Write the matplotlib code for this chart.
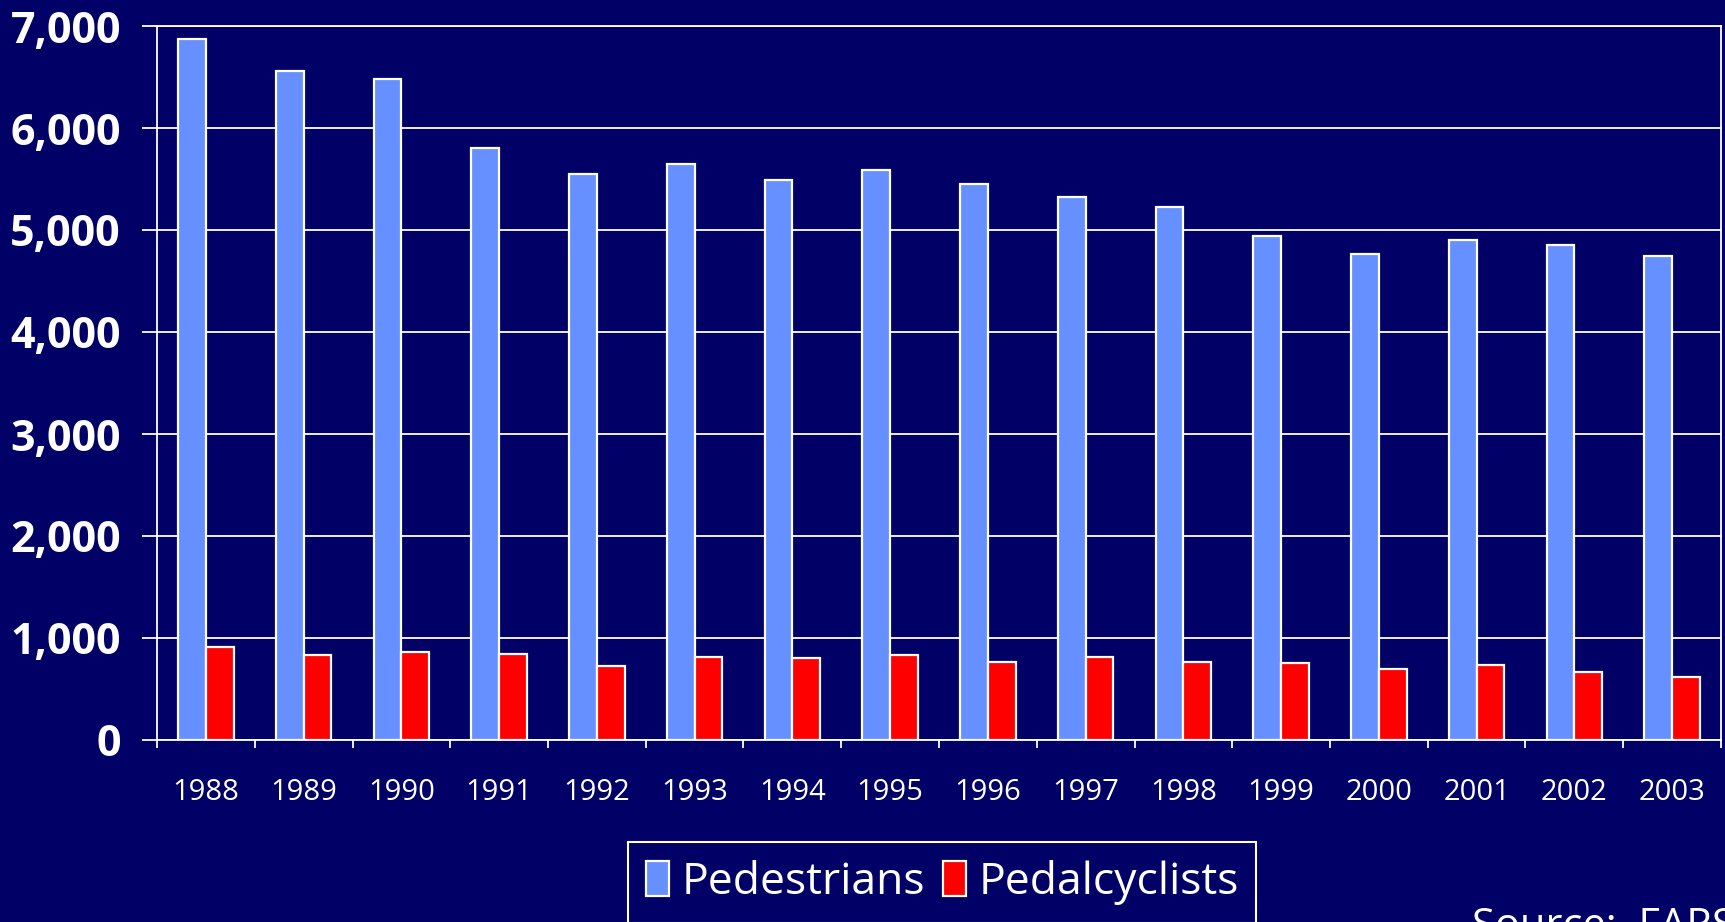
import matplotlib.pyplot as plt
import numpy as np
from matplotlib.ticker import FuncFormatter, MultipleLocator

years = [str(y) for y in range(1988, 2004)]
pedestrians = [6870, 6556, 6482, 5801, 5549, 5649, 5489, 5584,
               5449, 5321, 5228, 4939, 4763, 4901, 4851, 4749]
pedalcyclists = [911, 832, 859, 843, 723, 816, 802, 833,
                 765, 814, 760, 754, 693, 732, 665, 622]
series_labels = ["Pedestrians", "Pedalcyclists"]
source_text = "Source:  FARS"

BG = "#000066"
BLUE = "#6690FF"
RED = "#FF0000"
NARROW = ["Liberation Sans Narrow", "DejaVu Sans Condensed", "Open Sans"]


def main():
    fig = plt.figure(figsize=(17.25, 9.22), dpi=100, facecolor=BG)
    ax = fig.add_axes([157 / 1725, 1 - 740 / 922, (1721 - 157) / 1725, (740 - 26) / 922])
    ax.set_facecolor(BG)

    x = np.arange(len(years))
    width = 0.285
    bars_ped = ax.bar(x - width / 2, pedestrians, width, color=BLUE,
                      edgecolor="white", linewidth=1.6, label=series_labels[0], zorder=3)
    bars_cyc = ax.bar(x + width / 2, pedalcyclists, width, color=RED,
                      edgecolor="white", linewidth=1.6, label=series_labels[1], zorder=3)

    ax.set_xlim(-0.5, len(years) - 0.5)
    ax.set_ylim(0, 7000)
    ax.yaxis.set_major_locator(MultipleLocator(1000))
    ax.yaxis.set_major_formatter(FuncFormatter(lambda v, _: f"{int(v):,}"))
    ax.grid(axis="y", color="white", linewidth=1.3, zorder=1)

    for side in ("left", "right", "bottom", "top"):
        ax.spines[side].set_color("white")
        ax.spines[side].set_linewidth(1.3)

    # year labels sit in the middle, tick marks at the category boundaries
    ax.set_xticks(x)
    ax.set_xticklabels(years, family=NARROW, fontsize=21, color="white")
    ax.set_xticks(np.arange(len(years) + 1) - 0.5, minor=True)
    ax.tick_params(axis="x", which="major", length=0, pad=27)
    ax.tick_params(axis="x", which="minor", length=6, width=1.3, color="white")
    ax.tick_params(axis="y", length=11, width=1.3, color="white", pad=15,
                   labelsize=31, labelcolor="white")
    for lbl in ax.get_yticklabels():
        lbl.set_family("Open Sans")
        lbl.set_fontweight("bold")

    leg = fig.legend(
        handles=[bars_ped, bars_cyc],
        labels=series_labels,
        loc="upper left",
        bbox_to_anchor=(628 / 1725, 1 - 842 / 922),
        ncol=2,
        prop={"family": NARROW, "size": 32},
        labelcolor="white",
        facecolor=BG,
        edgecolor="white",
        fancybox=False,
        framealpha=1,
        handlelength=0.52,
        handleheight=0.85,
        handletextpad=0.28,
        columnspacing=0.4,
        borderpad=0.4,
        borderaxespad=0,
    )
    leg.get_frame().set_linewidth(1.5)

    fig.text(1472 / 1725, 1 - 906 / 922, source_text, family=NARROW, fontsize=30,
             color="white", ha="left", va="top")

    fig.savefig("out.png", dpi=100, facecolor=BG)


main()
